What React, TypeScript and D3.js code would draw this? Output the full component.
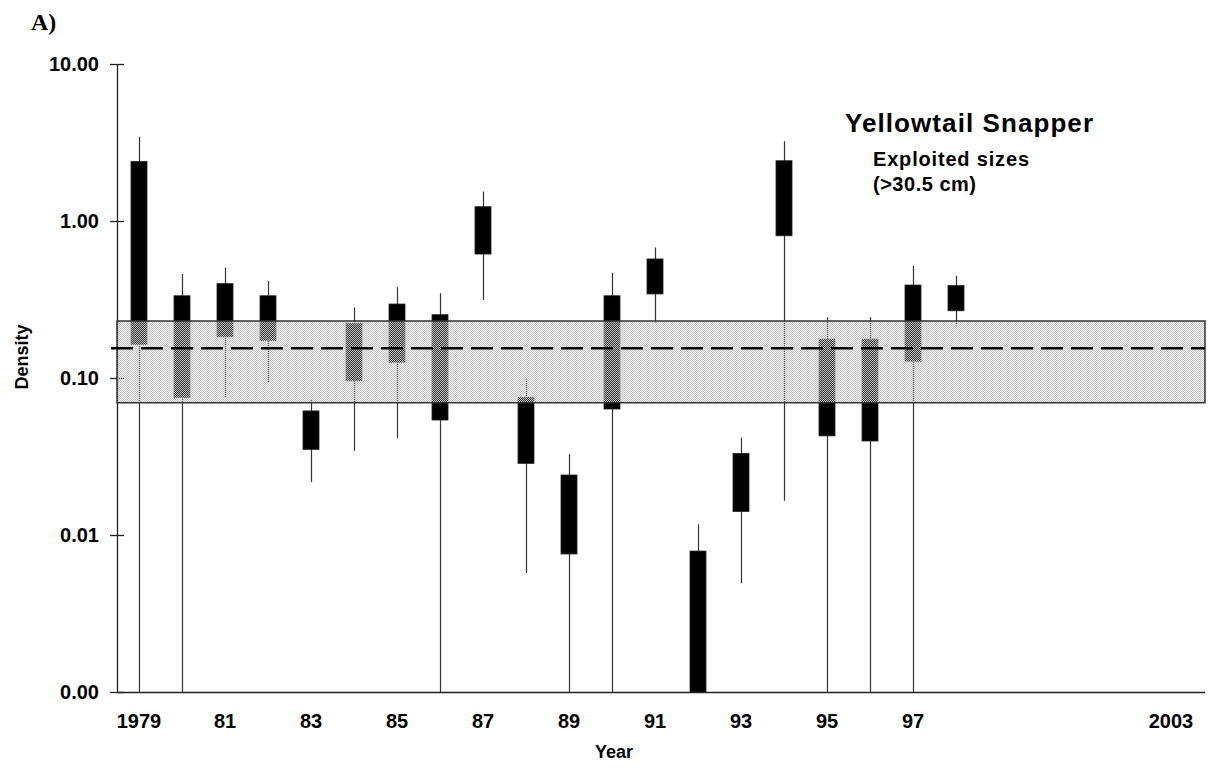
import React from "react";
import * as d3 from "d3";

// ---- data ----
const years = [1979, 1980, 1981, 1982, 1983, 1984, 1985, 1986, 1987, 1988, 1989, 1990, 1991, 1992, 1993, 1994, 1995, 1996, 1997, 1998];
const whiskerHigh = [3.44, 0.459, 0.505, 0.415, 0.0735, 0.282, 0.379, 0.347, 1.54, 0.098, 0.0327, 0.469, 0.679, 0.0117, 0.0417, 3.22, 0.244, 0.244, 0.519, 0.447];
const boxHigh = [2.39, 0.334, 0.399, 0.334, 0.0617, 0.223, 0.296, 0.253, 1.233, 0.0754, 0.0241, 0.334, 0.573, 0.0079, 0.0331, 2.42, 0.177, 0.177, 0.391, 0.388];
const boxLow = [0.164, 0.075, 0.183, 0.173, 0.0351, 0.096, 0.126, 0.054, 0.616, 0.0286, 0.00757, 0.0635, 0.343, 0, 0.0141, 0.805, 0.0428, 0.0397, 0.128, 0.268];
const whiskerLow = [0, 0, 0.075, 0.093, 0.0218, 0.0344, 0.0413, 0, 0.314, 0.00573, 0, 0, 0.226, 0, 0.00492, 0.0165, 0, 0, 0, 0.216];

const bandLow = 0.0696;
const bandHigh = 0.2307;
const bandMean = 0.1546;

const yTicks = [0.001, 0.01, 0.1, 1, 10];
const xTickYears = [1979, 1981, 1983, 1985, 1987, 1989, 1991, 1993, 1995, 1997, 2003];
const xTickLabels = ["1979", "81", "83", "85", "87", "89", "91", "93", "95", "97", "2003"];

const W = 1212;
const H = 768;

export default function App() {
  const x = d3.scaleLinear().domain([1979, 2003]).range([139, 1171]);
  const y = d3.scaleLog().domain([0.001, 10]).range([692, 64]).clamp(true);
  const yy = (v: number) => y(Math.max(v, 0.001));
  const axisLeft = 117;
  const axisRight = 1205;
  const boxW = 16;
  const font = "'Liberation Sans', Arial, sans-serif";

  const bandTop = y(bandHigh);
  const bandBot = y(bandLow);

  return (
    <svg width={W} height={H} style={{ display: "block", position: "absolute", left: 0, top: 0, background: "#fff" }}>
      <defs>
        <pattern id="stipple" patternUnits="userSpaceOnUse" width={2} height={2}>
          <rect x={0} y={0} width={1} height={1} fill="#c4c4c4" shapeRendering="crispEdges" />
          <rect x={1} y={1} width={1} height={1} fill="#c4c4c4" shapeRendering="crispEdges" />
          <rect x={1} y={0} width={1} height={1} fill="rgba(200,200,200,0.25)" shapeRendering="crispEdges" />
          <rect x={0} y={1} width={1} height={1} fill="rgba(200,200,200,0.25)" shapeRendering="crispEdges" />
        </pattern>
      </defs>
      <rect x={0} y={0} width={W} height={H} fill="#fff" />

      {/* axes */}
      <line x1={axisLeft + 0.5} x2={axisLeft + 0.5} y1={y(10)} y2={y(0.001)} stroke="#222" strokeWidth={1.3} />
      <line x1={axisLeft} x2={axisRight} y1={y(0.001) + 0.5} y2={y(0.001) + 0.5} stroke="#222" strokeWidth={1.3} />
      {yTicks.map((t) => (
        <g key={t}>
          <line x1={axisLeft - 7} x2={axisLeft + 7} y1={y(t) + 0.5} y2={y(t) + 0.5} stroke="#222" strokeWidth={1.3} />
          <text x={99} y={y(t)} dy="0.36em" textAnchor="end" fontFamily={font} fontWeight="bold" fontSize={20} fill="#000">
            {t < 0.01 ? "0.00" : d3.format(".2f")(t)}
          </text>
        </g>
      ))}
      {xTickYears.map((yr, i) => (
        <text key={yr} x={x(yr)} y={728} textAnchor="middle" fontFamily={font} fontWeight="bold" fontSize={20} fill="#000">
          {xTickLabels[i]}
        </text>
      ))}

      {/* marks */}
      {years.map((yr, i) => {
        const cx = Math.round(x(yr)) + 0.5;
        return (
          <g key={yr}>
            <line x1={cx} x2={cx} y1={yy(whiskerHigh[i])} y2={yy(whiskerLow[i])} stroke="#333" strokeWidth={1.2} />
            <rect
              x={Math.round(x(yr) - boxW / 2)}
              width={boxW}
              y={yy(boxHigh[i])}
              height={yy(boxLow[i]) - yy(boxHigh[i])}
              fill="#000"
              stroke="#222"
              strokeWidth={0.8}
            />
          </g>
        );
      })}

      {/* reference band (stippled overlay) */}
      <rect x={axisLeft} y={bandTop} width={axisRight - axisLeft} height={bandBot - bandTop} fill="url(#stipple)" />
      <rect x={axisLeft} y={bandTop} width={axisRight - axisLeft} height={bandBot - bandTop} fill="none" stroke="#333" strokeWidth={1.5} />
      <line x1={axisLeft - 6} x2={axisRight} y1={y(bandMean)} y2={y(bandMean)} stroke="#000" strokeWidth={2.6} strokeDasharray="22,8" />

      {/* texts */}
      <text x={31} y={30} fontFamily="'Liberation Serif', 'Times New Roman', serif" fontWeight="bold" fontSize={24} fill="#000">A)</text>
      <text x={845} y={132} fontFamily={font} fontWeight="bold" fontSize={26} textLength={248} lengthAdjust="spacing" fill="#000">Yellowtail Snapper</text>
      <text x={873} y={166} fontFamily={font} fontWeight="bold" fontSize={20} textLength={156} lengthAdjust="spacing" fill="#000">Exploited sizes</text>
      <text x={873} y={191} fontFamily={font} fontWeight="bold" fontSize={20} textLength={103} lengthAdjust="spacing" fill="#000">(&gt;30.5 cm)</text>
      <text x={614} y={758} textAnchor="middle" fontFamily={font} fontWeight="bold" fontSize={18} fill="#000">Year</text>
      <text transform={`translate(28, 357) rotate(-90)`} textAnchor="middle" fontFamily={font} fontWeight="bold" fontSize={18} fill="#000">Density</text>
    </svg>
  );
}
